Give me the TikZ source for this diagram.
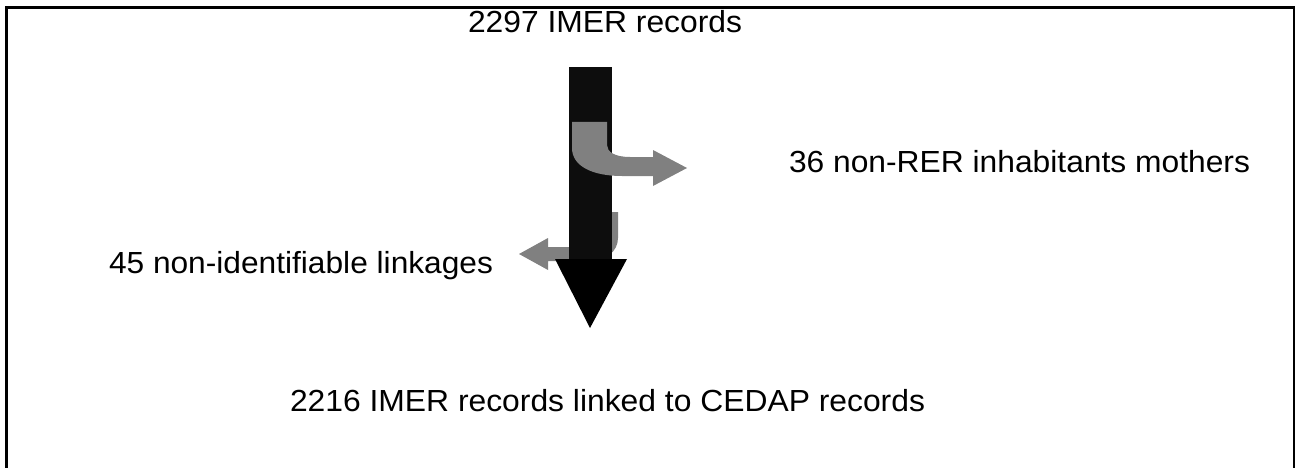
\documentclass[tikz,border=0pt]{standalone}
\usepackage{fontspec}
\setmainfont{Liberation Sans}
\usepackage{graphicx}
\begin{document}
\begin{tikzpicture}[x=1pt,y=-1pt,
  lbl/.style={anchor=base west,inner sep=0pt,outer sep=0pt,font=\fontsize{30.5}{36}\selectfont},
  grayarrow/.style={fill=black!50,draw=none},
  blackarrow/.style={fill=black,draw=none}]
\useasboundingbox (0,0) rectangle (1295,468);
% frame (bottom edge lies outside the picture)
\draw[line width=3pt] (6.5,500) -- (6.5,7.5) -- (1294,7.5) -- (1294,500);
% texts
\node[lbl] (top) at (468,33) {\resizebox{274pt}{\height}{2297 IMER records}};
\node[lbl] (right) at (789,172) {\resizebox{461pt}{\height}{36 non-RER inhabitants mothers}};
\node[lbl] (left) at (109,273) {\resizebox{384pt}{\height}{45 non-identifiable linkages}};
\node[lbl] (bottom) at (290,411) {\resizebox{635pt}{\height}{2216 IMER records linked to CEDAP records}};
% gray arrow going left (behind the main arrow)
\fill[grayarrow] (583,212) -- (618,212) -- (618,238)
  .. controls (618,252) and (605,261) .. (590,261) -- (548,261) -- (548,270)
  -- (519,254) -- (548,238) -- (548,247) -- (575,247)
  .. controls (580,247) and (583,240) .. (583,230) -- cycle;
% main black arrow
\fill[black!95] (569,67) rectangle (612,260);
\fill[blackarrow] (555,259) -- (627,259) -- (590,328) -- cycle;
% gray arrow going right (in front)
\fill[grayarrow] (572,122) -- (572,148)
  .. controls (572,166) and (592,176) .. (622,176) -- (653,176) -- (653,186)
  -- (687,168) -- (653,150) -- (653,157) -- (630,157)
  .. controls (615,157) and (607,152) .. (607,145) -- (607,122) -- cycle;
\end{tikzpicture}
\end{document}
